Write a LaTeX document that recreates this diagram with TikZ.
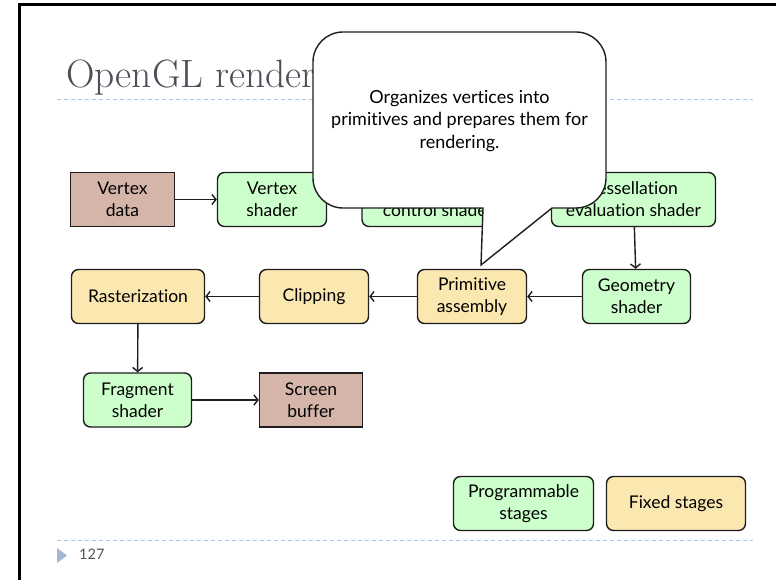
\documentclass[tikz,border=0pt]{standalone}
\usepackage{fontspec}
\newfontfamily\gill{Lato}[Ligatures={NoCommon}]
\usetikzlibrary{arrows.meta}
\definecolor{boxline}{HTML}{1E1E1E}
\definecolor{progfill}{HTML}{CCFFCC}
\definecolor{fixfill}{HTML}{FBE7B0}
\definecolor{datafill}{HTML}{D5B5A9}
\definecolor{titlegray}{HTML}{4E4E58}
\definecolor{rulecol}{HTML}{A9C9E4}
\definecolor{footblue}{HTML}{A2B8CF}
\definecolor{footgray}{HTML}{55555F}
\begin{document}
\begin{tikzpicture}[x=1pt,y=-1pt,
  box/.style={draw=boxline, line width=1.4pt, align=center, inner sep=0pt,
    font=\gill\fontsize{17.5}{22}\selectfont, text=black,
    minimum width=#1, minimum height=54pt},
  prog/.style={box=#1, fill=progfill, rounded corners=7pt},
  fixd/.style={box=#1, fill=fixfill, rounded corners=7pt},
  dat/.style={box=#1, fill=datafill},
  flow/.style={draw=boxline, line width=1.4pt, -{Straight Barb[length=4pt,width=10pt]}},
  rulestyle/.style={draw=rulecol, line width=1pt, dash pattern=on 4pt off 3pt},
  calloutstyle/.style={draw=boxline, line width=1.4pt, fill=white}
]
\useasboundingbox (0,0) rectangle (776,580);
\fill[white] (0,0) rectangle (776,580);

% slide frame
\draw[line width=3pt, black] (19.8,580) -- (19.8,5) -- (776,5);

% title and rules
\node[anchor=base west, inner sep=0pt, font=\fontsize{39.5}{42}\selectfont, text=titlegray] (title) at (66,88) {OpenGL render};
\draw[rulestyle] (57,100) -- (753,100);
\draw[rulestyle] (57,540) -- (753,540);
\fill[footblue] (57,548) -- (67,555.5) -- (57,563) -- cycle;
\node[anchor=west, inner sep=0pt, font=\gill\fontsize{14.5}{15}\selectfont, text=footgray] (pagenum) at (79,554) {127};

% stages
\node[dat=104pt] (vdata) at (122.5,199.5) {Vertex\\data};
\node[prog=109pt] (vshader) at (272,199.5) {Vertex\\shader};
\node[prog=152pt] (tcs) at (438,199.5) {Tessellation\\control shader};
\node[prog=164pt] (tes) at (633.5,199.5) {Tessellation\\evaluation shader};
\node[prog=108pt] (geom) at (636.5,296.5) {Geometry\\shader};
\node[fixd=109pt] (prim) at (472,296.5) {Primitive\\assembly};
\node[fixd=109pt] (clip) at (314,296.5) {Clipping};
\node[fixd=133pt] (rast) at (138,296.5) {Rasterization};
\node[prog=108pt] (frag) at (137.5,400) {Fragment\\shader};
\node[dat=103pt] (screen) at (311,400) {Screen\\buffer};

% legend
\node[prog=140pt] (legprog) at (523.5,503.5) {Programmable\\stages};
\node[fixd=139pt] (legfix) at (676,503.5) {Fixed stages};

% flow
\draw[flow] (vdata) -- (vshader);
\draw[flow] (vshader) -- (tcs);
\draw[flow] (tcs) -- (tes);
\draw[flow] (tes) -- (geom);
\draw[flow] (geom) -- (prim);
\draw[flow] (prim) -- (clip);
\draw[flow] (clip) -- (rast);
\draw[flow] (rast) -- (frag);
\draw[flow] (frag) -- (screen);

% callout
\draw[calloutstyle] (483,208) -- (343,208) arc[start angle=90,end angle=180,radius=30]
  -- (313,62) arc[start angle=180,end angle=270,radius=30]
  -- (576,32) arc[start angle=270,end angle=360,radius=30]
  -- (606,178) arc[start angle=0,end angle=90,radius=30]
  -- (552,208) -- (481,265) -- cycle;
\node[align=center, inner sep=0pt, font=\gill\fontsize{18}{22.5}\selectfont, text=black] (callouttext) at (459.5,121)
  {Organizes vertices into\\primitives and prepares them for\\rendering.};
\end{tikzpicture}
\end{document}
